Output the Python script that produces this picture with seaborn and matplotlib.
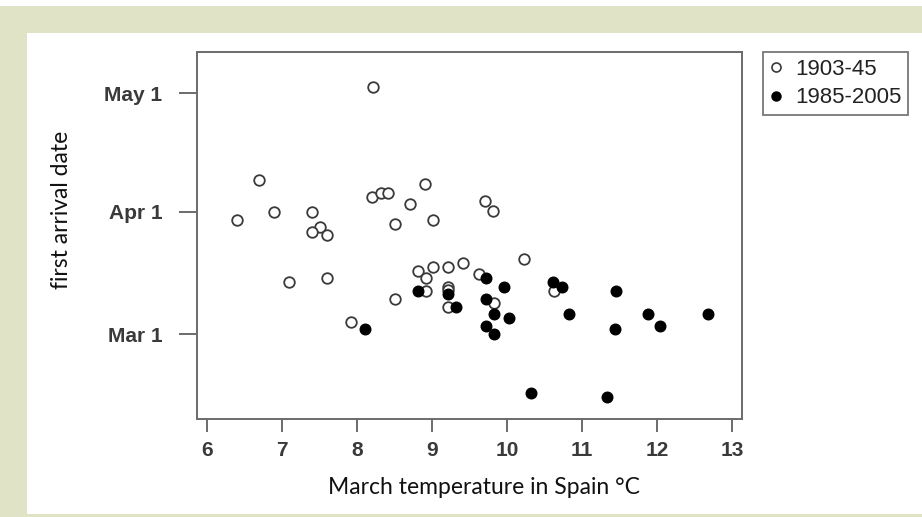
import matplotlib
matplotlib.use("Agg")
import matplotlib.pyplot as plt
from matplotlib.patches import Rectangle
from matplotlib.lines import Line2D
import seaborn as sns
import pandas as pd

# ---- data (days after Mar 1) ----
temp_early = [8.21, 6.69, 6.40, 6.90, 7.40, 7.51, 7.40, 7.60, 7.09, 7.60,
              8.20, 8.32, 8.42, 8.91, 8.71, 8.51, 9.02, 9.71, 9.81, 8.51,
              7.92, 8.81, 9.02, 9.22, 9.42, 8.92, 8.92, 9.22, 9.22, 9.21,
              9.62, 10.22, 9.83, 10.62]
day_early = [62.7, 39.1, 28.9, 31.0, 31.0, 27.1, 26.0, 25.1, 13.2, 14.2,
             34.8, 35.8, 35.8, 38.0, 32.9, 28.0, 28.9, 33.8, 31.2, 9.0,
             3.1, 16.1, 17.0, 17.0, 18.1, 14.2, 11.0, 12.0, 11.2, 7.0,
             15.3, 19.0, 8.0, 10.9]
temp_late = [8.11, 8.81, 9.22, 9.32, 9.72, 9.96, 9.72, 9.83, 10.02, 9.72,
             9.83, 10.61, 10.73, 11.45, 10.83, 11.88, 12.04, 12.68, 11.44,
             10.32, 11.33]
day_late = [1.3, 11.0, 10.2, 7.0, 14.2, 11.9, 8.9, 5.1, 4.1, 2.2,
            0.2, 13.3, 11.9, 11.0, 5.1, 5.1, 2.2, 5.1, 1.3,
            -14.9, -15.8]
series_labels = ["1903-45", "1985-2005"]
x_ticks = [6, 7, 8, 9, 10, 11, 12, 13]
y_tick_pos = [0, 31, 61]
y_tick_labels = ["Mar 1", "Apr 1", "May 1"]

df_early = pd.DataFrame({"temp": temp_early, "day": day_early})
df_late = pd.DataFrame({"temp": temp_late, "day": day_late})

sns.set_style("white")
plt.rcParams["font.family"] = ["Liberation Sans", "DejaVu Sans"]

fig = plt.figure(figsize=(9.22, 5.17), dpi=100)
fig.patch.set_facecolor("white")
W, H = 922, 517
olive = "#e1e3c6"
# olive frame
fig.patches.append(Rectangle((0, 0), 1, 1 - 6 / H, transform=fig.transFigure,
                             facecolor=olive, edgecolor="none", zorder=-3))
fig.patches.append(Rectangle((27 / W, 3 / H), 1 - 27 / W, (514 - 33) / H,
                             transform=fig.transFigure, facecolor="white",
                             edgecolor="none", zorder=-2))

ax = fig.add_axes([197 / W, 1 - 419 / H, (742 - 197) / W, (419 - 52) / H])
ax.set_facecolor("white")

edge = "#3a3a3a"
sns.scatterplot(data=df_early, x="temp", y="day", ax=ax, marker="o", s=58,
                facecolor="white", edgecolor=edge, linewidth=1.3, zorder=3)
sns.scatterplot(data=df_late, x="temp", y="day", ax=ax, marker="o", s=58,
                color="black", edgecolor="black", linewidth=1.0, zorder=4)

ax.set_xlim(5.87, 13.13)
ax.set_ylim(-21.4, 71.5)
ax.set_xticks(x_ticks)
ax.set_xticklabels([str(t) for t in x_ticks])
ax.set_yticks(y_tick_pos)
ax.set_yticklabels(y_tick_labels)

spine_c = "#6b6b6b"
for sp in ax.spines.values():
    sp.set_visible(True)
    sp.set_color(spine_c)
    sp.set_linewidth(1.4)

ax.tick_params(axis="x", direction="out", length=9, width=1.4, color=spine_c,
               labelsize=15, labelcolor="#3a3a3a", pad=7, bottom=True)
ax.tick_params(axis="y", direction="out", length=13, width=1.4, color=spine_c,
               labelsize=15, labelcolor="#3a3a3a", pad=12, left=True)
for lab in ax.get_xticklabels() + ax.get_yticklabels():
    lab.set_fontweight("bold")

ax.set_xlabel("March temperature in Spain °C", fontsize=16.5,
              family=["Lato", "DejaVu Sans"], color="#111111", va="center")
ax.xaxis.set_label_coords(0.526, (419 - 487) / 367)
ax.set_ylabel("first arrival date", fontsize=16.5,
              family=["Lato", "DejaVu Sans"], color="#111111", va="center")
ax.yaxis.set_label_coords((61 - 197) / 545, (419 - 210) / 367)

handles = [
    Line2D([], [], marker="o", linestyle="none", markersize=6.5,
           markerfacecolor="white", markeredgecolor=edge, markeredgewidth=1.2),
    Line2D([], [], marker="o", linestyle="none", markersize=6.5,
           markerfacecolor="black", markeredgecolor="black"),
]
leg = fig.legend(handles, series_labels, loc="upper left",
                 bbox_to_anchor=(763 / W, 1 - 52 / H),
                 bbox_transform=fig.transFigure, frameon=True, fancybox=False,
                 handlelength=0.55, handletextpad=0.6,
                 borderpad=0.3, labelspacing=0.35, borderaxespad=0,
                 prop={"family": ["Liberation Sans", "DejaVu Sans"], "size": 16})
leg.get_frame().set_edgecolor("#555555")
leg.get_frame().set_linewidth(1.3)
for t in leg.get_texts():
    t.set_color("#222222")

fig.savefig("out.png", dpi=100)
